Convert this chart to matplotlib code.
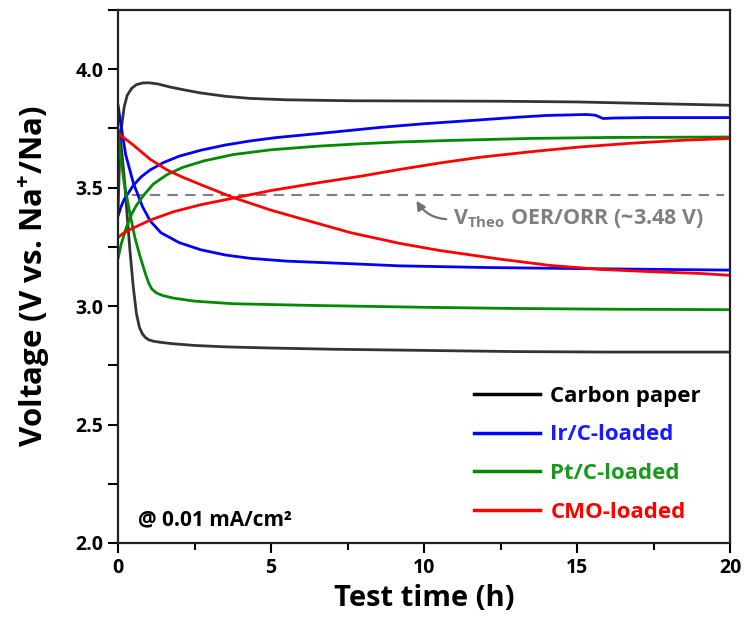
import matplotlib
matplotlib.use("Agg")
import matplotlib.pyplot as plt
from matplotlib.ticker import MultipleLocator

plt.rcParams['font.family'] = ['Open Sans', 'DejaVu Sans']
plt.rcParams['font.weight'] = 'bold'
plt.rcParams['mathtext.fontset'] = 'custom'
plt.rcParams['mathtext.rm'] = 'Open Sans:bold'
plt.rcParams['mathtext.bf'] = 'Open Sans:bold'

# ---- data ----
t_carbon_chg = [0, 0.05, 0.1, 0.2, 0.3, 0.45, 0.6, 0.8, 1.0, 1.3, 1.7, 2.2, 2.7, 3.5, 4.3, 5.5, 7.6, 10, 12.5, 15, 17.5, 20]
v_carbon_chg = [3.40, 3.62, 3.74, 3.84, 3.89, 3.92, 3.935, 3.942, 3.943, 3.938, 3.925, 3.912, 3.90, 3.886, 3.877, 3.871, 3.867, 3.866, 3.865, 3.862, 3.855, 3.848]
t_carbon_dis = [0, 0.1, 0.2, 0.3, 0.4, 0.5, 0.6, 0.7, 0.8, 0.9, 1.0, 1.15, 1.4, 1.8, 2.5, 3.5, 5, 7, 10, 13, 16, 20]
v_carbon_dis = [3.75, 3.68, 3.55, 3.38, 3.22, 3.08, 2.97, 2.91, 2.882, 2.867, 2.858, 2.852, 2.847, 2.841, 2.834, 2.828, 2.823, 2.818, 2.813, 2.808, 2.806, 2.806]

t_ir_chg = [0, 0.1, 0.2, 0.35, 0.5, 0.75, 1.05, 1.5, 2.0, 2.7, 3.5, 4.3, 5.2, 6.5, 7.6, 8.6, 10, 11.8, 13, 14, 15.3, 15.6, 15.85, 16.2, 17.3, 18.5, 20]
v_ir_chg = [3.38, 3.42, 3.45, 3.48, 3.51, 3.545, 3.575, 3.607, 3.633, 3.658, 3.68, 3.697, 3.712, 3.728, 3.742, 3.755, 3.77, 3.786, 3.797, 3.805, 3.809, 3.806, 3.792, 3.794, 3.796, 3.796, 3.796]
t_ir_dis = [0, 0.1, 0.25, 0.5, 0.8, 1.05, 1.4, 2.0, 2.7, 3.5, 4.3, 5.5, 7.6, 9.2, 12, 14.7, 17, 20]
v_ir_dis = [3.85, 3.76, 3.64, 3.52, 3.42, 3.36, 3.31, 3.268, 3.238, 3.216, 3.202, 3.19, 3.179, 3.17, 3.163, 3.159, 3.156, 3.152]

t_pt_chg = [0, 0.1, 0.28, 0.45, 0.6, 0.85, 1.15, 1.6, 2.1, 2.8, 3.77, 5, 6.5, 8, 9.2, 11, 13.5, 16, 20]
v_pt_chg = [3.20, 3.26, 3.335, 3.39, 3.425, 3.47, 3.515, 3.555, 3.585, 3.613, 3.64, 3.66, 3.675, 3.686, 3.693, 3.70, 3.708, 3.712, 3.714]
t_pt_dis = [0, 0.1, 0.2, 0.39, 0.55, 0.72, 0.9, 1.0, 1.1, 1.25, 1.45, 1.8, 2.5, 3.77, 6.3, 10, 13, 16, 20]
v_pt_dis = [3.72, 3.62, 3.52, 3.39, 3.29, 3.21, 3.135, 3.098, 3.073, 3.056, 3.045, 3.034, 3.021, 3.01, 3.003, 2.995, 2.99, 2.987, 2.985]

t_cmo_chg = [0, 0.2, 0.5, 1.05, 1.8, 2.7, 3.77, 5, 6.5, 8, 9.2, 10.5, 11.8, 13.5, 15.1, 16.8, 18.4, 20]
v_cmo_chg = [3.29, 3.31, 3.33, 3.363, 3.398, 3.428, 3.456, 3.488, 3.52, 3.55, 3.577, 3.604, 3.628, 3.652, 3.672, 3.688, 3.70, 3.708]
t_cmo_dis = [0, 0.2, 0.5, 1.05, 1.6, 2.1, 2.7, 3.77, 5, 6.5, 7.6, 9.2, 10.5, 12.5, 14.1, 15.75, 17.5, 19.0, 20]
v_cmo_dis = [3.73, 3.71, 3.68, 3.62, 3.575, 3.545, 3.513, 3.458, 3.405, 3.35, 3.31, 3.265, 3.235, 3.198, 3.172, 3.155, 3.145, 3.138, 3.13]

labels = ['Carbon paper', 'Ir/C-loaded', 'Pt/C-loaded', 'CMO-loaded']
colors = ['#333333', '#0000ff', '#008a00', '#ff0000']
legend_text_colors = ['#000000', '#1a1aff', '#1a9a1a', '#ff0000']
v_theo = 3.47

series = [
    (t_carbon_chg, v_carbon_chg, t_carbon_dis, v_carbon_dis),
    (t_ir_chg, v_ir_chg, t_ir_dis, v_ir_dis),
    (t_pt_chg, v_pt_chg, t_pt_dis, v_pt_dis),
    (t_cmo_chg, v_cmo_chg, t_cmo_dis, v_cmo_dis),
]

fig = plt.figure(figsize=(7.45, 6.28), dpi=100)
ax = fig.add_axes([0.1584, 0.1354, 0.8216, 0.8486])

for (tc, vc, td, vd), lab, col in zip(series, labels, colors):
    ax.plot(tc, vc, color=col, lw=2.0, label=lab, solid_capstyle='round', solid_joinstyle='round')
    ax.plot(td, vd, color=col, lw=2.0, solid_capstyle='round', solid_joinstyle='round')

ax.plot([0.45, 19.8], [v_theo, v_theo], color='#808080', lw=1.5, dashes=(5, 3.5), zorder=0)

ax.annotate(r'V$_{\mathrm{Theo}}$ OER/ORR (~3.48 V)', xy=(9.75, 3.445), xytext=(10.95, 3.372),
            color='#808080', fontsize=15.5, fontweight='bold', va='center', ha='left',
            arrowprops=dict(arrowstyle='-|>', color='#707070', lw=1.6, relpos=(0.0, 0.45),
                            connectionstyle='arc3,rad=-0.3', shrinkA=3, shrinkB=0,
                            mutation_scale=13))

ax.text(0.65, 2.097, '@ 0.01 mA/cm²', fontsize=15, fontweight='bold', va='center', ha='left')

ax.set_xlim(0, 20)
ax.set_ylim(2.0, 4.25)
ax.xaxis.set_major_locator(MultipleLocator(5))
ax.xaxis.set_minor_locator(MultipleLocator(2.5))
ax.set_yticks([2.0, 2.5, 3.0, 3.5, 4.0])
ax.set_yticklabels(['2.0', '2.5', '3.0', '3.5', '4.0'])
ax.yaxis.set_minor_locator(MultipleLocator(0.25))
ax.tick_params(axis='both', which='major', direction='out', length=7, width=1.5, labelsize=14)
ax.tick_params(axis='x', which='minor', direction='out', length=5, width=1.5)
ax.tick_params(axis='y', which='minor', direction='out', length=7, width=1.5)
for lab in ax.get_xticklabels() + ax.get_yticklabels():
    lab.set_fontweight('bold')
for sp in ax.spines.values():
    sp.set_linewidth(1.6)
    sp.set_color('#222222')

ax.set_xlabel('Test time (h)', fontsize=21, fontweight='bold', labelpad=5)
ax.set_ylabel('Voltage (V vs. Na$^{+}$/Na)', fontsize=22.5, fontweight='bold', labelpad=17)

leg_handles = [plt.Line2D([], [], color=c if i else '#000000', lw=2.5) for i, c in enumerate(colors)]
leg = ax.legend(leg_handles, labels, loc='lower right', bbox_to_anchor=(0.985, 0.0),
                frameon=False, handlelength=3.0, handletextpad=0.45,
                labelspacing=0.8, prop={'weight': 'bold', 'size': 16})
for txt, c in zip(leg.get_texts(), legend_text_colors):
    txt.set_color(c)

fig.savefig('out.png', dpi=100)
